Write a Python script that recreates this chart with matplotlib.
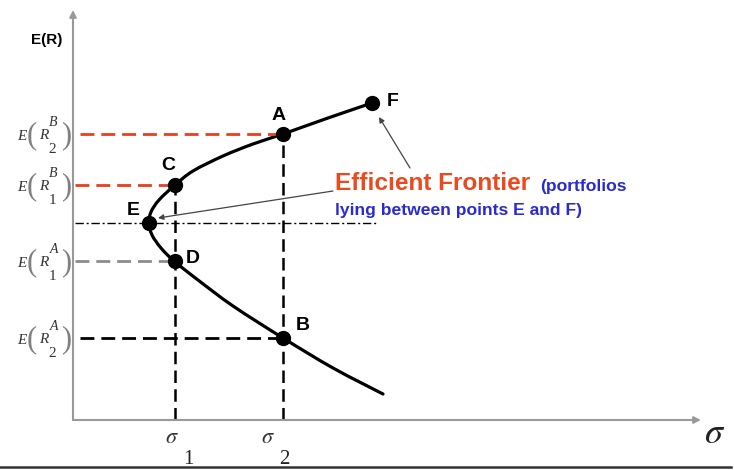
import numpy as np
import matplotlib.pyplot as plt
from matplotlib.path import Path
from matplotlib.patches import PathPatch

plt.rcParams['mathtext.fontset'] = 'stix'

# frontier curve (sigma, expected return), from F down to the lower end
curve_sigma = [29.9, 25.5, 21.0, 18.0, 15.0, 12.0, 10.2, 8.6, 7.8, 7.6, 7.9, 8.8, 10.1,
               12.5, 16.0, 21.0, 26.0, 31.0]
curve_ret = [31.7, 30.2, 28.6, 27.6, 26.4, 24.9, 23.5, 22.0, 20.8, 19.7, 18.5, 17.2, 15.9,
             14.0, 11.4, 8.2, 5.2, 2.6]

point_names = ['A', 'B', 'C', 'D', 'E', 'F']
point_sigma = [21.0, 21.0, 10.2, 10.2, 7.6, 29.9]
point_ret = [28.6, 8.2, 23.5, 15.9, 19.7, 31.7]

sigma_ticks = [10.2, 21.0]
sigma_tick_labels = ['1', '2']
ret_levels = [28.6, 23.5, 15.9, 8.2]
ret_sub = ['2', '1', '1', '2']
ret_sup = ['B', 'B', 'A', 'A']
min_var_ret = 19.7

fig = plt.figure(figsize=(7.34, 4.70), dpi=100)
ax = fig.add_axes([0, 0, 1, 1])
ax.set_xlim(-7.3, 66.1)
ax.set_ylim(-5.0, 42.0)
ax.axis('off')

# axes with arrows
arrow_kw = dict(arrowstyle='-|>', color='#999999', lw=1.5, mutation_scale=10, shrinkA=0, shrinkB=0)
ax.annotate('', xy=(0, 41.0), xytext=(0, 0), arrowprops=arrow_kw)
ax.annotate('', xy=(62.8, 0), xytext=(0, 0), arrowprops=arrow_kw)
ax.plot([-7.3, 65.8], [-4.7, -4.7], color='#333333', lw=1.8)

# horizontal guide lines
dash = (5, 2.5)
ax.plot([0.7, point_sigma[0]], [ret_levels[0]] * 2, color='#e8401c', lw=2, dashes=dash)
ax.plot([0.2, point_sigma[2]], [ret_levels[1]] * 2, color='#e8401c', lw=2, dashes=dash)
ax.plot([0.2, point_sigma[3]], [ret_levels[2]] * 2, color='#8c8c8c', lw=2, dashes=dash)
ax.plot([0.7, point_sigma[1]], [ret_levels[3]] * 2, color='black', lw=2, dashes=dash)
ax.plot([0.2, 30.4], [min_var_ret] * 2, color='black', lw=1, dashes=(6, 2, 1.5, 2))

# vertical guide lines
ax.plot([sigma_ticks[0]] * 2, [0, ret_levels[1]], color='black', lw=1.8, dashes=dash)
ax.plot([sigma_ticks[1]] * 2, [0, ret_levels[0]], color='black', lw=1.8, dashes=dash)

# frontier drawn as a smooth bezier path through the read points
pts = np.column_stack([curve_sigma, curve_ret])
ext = np.vstack([pts[0], pts, pts[-1]])
verts = [pts[0]]
codes = [Path.MOVETO]
for i in range(1, len(ext) - 2):
    p0, p1, p2, p3 = ext[i - 1], ext[i], ext[i + 1], ext[i + 2]
    verts += [p1 + (p2 - p0) / 6, p2 - (p3 - p1) / 6, p2]
    codes += [Path.CURVE4] * 3
ax.add_patch(PathPatch(Path(verts, codes), fill=False, lw=2.3, edgecolor='black',
                       capstyle='round', joinstyle='round'))
ax.plot(point_sigma, point_ret, 'o', color='black', markersize=10)

offsets = {'A': (-3, 13), 'B': (14, 9), 'C': (-5, 14), 'D': (13, 2), 'E': (-11, 9), 'F': (15, 1)}
for name, s, r in zip(point_names, point_sigma, point_ret):
    ax.annotate(name, (s, r), xytext=offsets[name], textcoords='offset points',
                ha='center', va='center', fontsize=14, fontweight='bold',
                family='Liberation Sans')

# axis labels
ax.text(-2.6, 38.0, 'E(R)', ha='center', va='center', fontsize=11, fontweight='bold',
        family='Liberation Sans')
ax.text(64.2, -1.3, r'$\sigma$', ha='center', va='center', fontsize=26, color='#222222')
for s, lab, dx in zip(sigma_ticks, sigma_tick_labels, [-0.3, -1.5]):
    ax.text(s + dx, -1.7, r'$\sigma$', ha='center', va='center', fontsize=16, color='#333333')
    ax.text(s + dx + 1.6, -4.0, lab, ha='center', va='center',
            fontsize=15, family='Liberation Serif', color='#222222')

# y labels E(R sub sup), built from pieces (offsets in points from the y axis)
serif = dict(family='Liberation Serif', color='#333333', ha='center', va='center',
             textcoords='offset points')
paren = dict(serif, color='#808080')
for r, sub, sup in zip(ret_levels, ret_sub, ret_sup):
    ax.annotate('E', (0, r), xytext=(-37, -2), fontsize=11, style='italic', **serif)
    ax.annotate('(', (0, r), xytext=(-30, -1), fontsize=22, **paren)
    ax.annotate('R', (0, r), xytext=(-21, -1), fontsize=11, style='italic', **serif)
    ax.annotate(sup, (0, r), xytext=(-14, 8), fontsize=10, style='italic', **serif)
    ax.annotate(sub, (0, r), xytext=(-15, -11), fontsize=11, **serif)
    ax.annotate(')', (0, r), xytext=(-5, -1), fontsize=22, **paren)

# annotation
ax.text(26.2, 23.7, 'Efficient Frontier', ha='left', va='center', fontsize=17.6,
        fontweight='bold', color='#ea4a1e', family='Liberation Sans')
ax.text(46.7, 23.4, '(portfolios', ha='left', va='center', fontsize=12.6,
        fontweight='bold', color='#2a2ad2', family='Liberation Sans')
ax.text(26.2, 21.0, 'lying between points E and F)', ha='left', va='center', fontsize=12.6,
        fontweight='bold', color='#2a2ad2', family='Liberation Sans')
thin_kw = dict(arrowstyle='-|>', color='#444444', lw=0.9, mutation_scale=8, shrinkA=0, shrinkB=0)
ax.annotate('', xy=(8.5, 20.2), xytext=(26.0, 22.9), arrowprops=thin_kw)
ax.annotate('', xy=(30.6, 30.3), xytext=(33.7, 25.2), arrowprops=thin_kw)

fig.savefig('out.png', dpi=100)
